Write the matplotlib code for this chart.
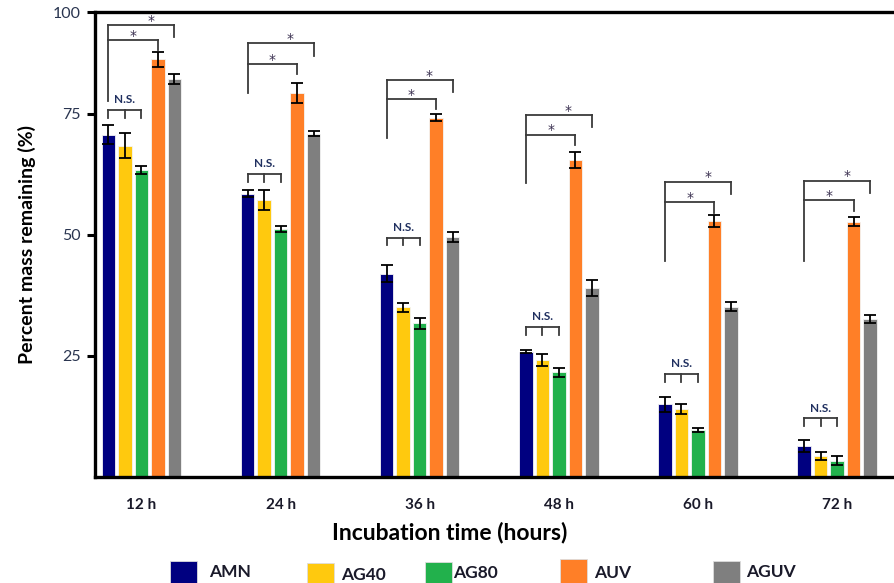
import numpy as np
import matplotlib.pyplot as plt
from matplotlib.patches import Rectangle

plt.rcParams['font.family'] = ['Lato', 'DejaVu Sans']

times = ['12 h', '24 h', '36 h', '48 h', '60 h', '72 h']
groups = ['AMN', 'AG40', 'AG80', 'AUV', 'AGUV']
colors = ['#000080', '#FFC90E', '#22B14C', '#FF7F27', '#7F7F7F']

amn = [70.7, 58.5, 42.0, 25.9, 15.0, 6.4]
amn_err = [2.0, 0.7, 1.8, 0.4, 1.5, 1.2]
ag40 = [68.4, 57.2, 35.0, 24.1, 14.0, 4.3]
ag40_err = [2.6, 2.0, 1.0, 1.2, 1.0, 0.8]
ag80 = [63.4, 51.2, 31.7, 21.6, 9.7, 3.4]
ag80_err = [0.8, 0.7, 1.2, 1.0, 0.5, 1.0]
auv = [86.2, 79.3, 74.2, 65.5, 52.9, 52.7]
auv_err = [1.5, 2.0, 0.7, 1.7, 1.2, 0.9]
aguv = [82.2, 70.9, 49.6, 39.0, 35.2, 32.6]
aguv_err = [1.0, 0.5, 1.0, 1.7, 1.0, 0.8]

# heights of the significance brackets
ns_level = [75.8, 62.6, 49.4, 31.0, 21.3, 12.2]
star_base = [77.7, 79.3, 70.0, 60.7, 44.6, 44.6]
star_low = [90.3, 85.3, 78.1, 70.7, 56.8, 57.2]
star_high = [93.4, 89.5, 82.0, 74.8, 61.0, 61.2]

values = [amn, ag40, ag80, auv, aguv]
errors = [amn_err, ag40_err, ag80_err, auv_err, aguv_err]

fig = plt.figure(figsize=(8.94, 5.83), dpi=100)
ax = fig.add_axes([95 / 894, 1 - 477 / 583, 825.5 / 894, 465 / 583])

x = np.arange(len(times))
step = 0.1186
width = 0.097
for i in range(len(groups)):
    pos = x + (i - 2) * step
    ax.bar(pos, values[i], width, color=colors[i], edgecolor='#f4f4f4', linewidth=0.6, zorder=2)
    ax.errorbar(pos, values[i], yerr=errors[i], fmt='none', ecolor='black',
                elinewidth=1.3, capsize=4, capthick=1.3, zorder=3)

lc = '#3a3a3a'
lw = 1.3
for j in range(len(times)):
    xa = x[j] - 2 * step
    xb = x[j] - step
    xc = x[j]
    xd = x[j] + step
    xe = x[j] + 2 * step
    # N.S. bracket
    h = ns_level[j]
    ax.plot([xa, xc], [h, h], color=lc, lw=lw)
    for xx in [xa, xb, xc]:
        ax.plot([xx, xx], [h, h - 1.6], color=lc, lw=lw)
    ax.text(xb, h + 0.9, 'N.S.', ha='center', va='bottom', fontsize=8.5,
            fontweight='bold', color='#1f2f5f')
    # * brackets
    ax.plot([xa, xa], [star_base[j], star_high[j]], color=lc, lw=lw)
    ax.plot([xa, xd], [star_low[j], star_low[j]], color=lc, lw=lw)
    ax.plot([xd, xd], [star_low[j], star_low[j] - 2.2], color=lc, lw=lw)
    ax.plot([xa, xe], [star_high[j], star_high[j]], color=lc, lw=lw)
    ax.plot([xe, xe], [star_high[j], star_high[j] - 2.6], color=lc, lw=lw)
    ax.text((xa + xd) / 2, star_low[j] - 0.6, '*', ha='center', va='bottom',
            fontsize=10, color='#3a3050', family='DejaVu Sans')
    ax.text((xa + xe) / 2 + 0.07, star_high[j] - 0.6, '*', ha='center', va='bottom',
            fontsize=10, color='#3a3050', family='DejaVu Sans')

ax.set_xlim(-0.334, 5.6)
ax.set_ylim(0, 96)
ax.set_yticks([25, 50, 75, 96])
ax.set_yticklabels(['25', '50', '75', '100'], fontsize=11.5, color='#2a3550')
ax.set_xticks(x)
ax.set_xticklabels(times, fontsize=11, fontweight='bold', color='#1a1a2a')
ax.tick_params(axis='x', length=0, pad=15)
ax.tick_params(axis='y', length=6, width=2.2, direction='out', pad=4)
for s in ['left', 'bottom', 'top']:
    ax.spines[s].set_linewidth(2.4)
ax.spines['right'].set_visible(False)

ax.set_xlabel('Incubation time (hours)', fontsize=16.5, fontweight='bold')
ax.xaxis.set_label_coords(0.43, -0.095)
ax.set_ylabel('Percent mass remaining (%)', fontsize=14, fontweight='bold', labelpad=12)

# legend drawn below the axes
leg_sq = [(170, 561), (307, 563), (425, 562), (560, 559), (713, 561)]
leg_tx = [(209, 572), (341, 575), (453, 573), (594, 573), (746, 572)]
for i in range(len(groups)):
    sx, sy = leg_sq[i]
    fig.add_artist(Rectangle((sx / 894, 1 - (sy + 27) / 583), 27 / 894, 27 / 583,
                             transform=fig.transFigure, facecolor=colors[i],
                             edgecolor='#dddddd', linewidth=0.6))
    tx, ty = leg_tx[i]
    fig.text(tx / 894, 1 - ty / 583, groups[i], ha='left', va='center',
             fontsize=12.5, fontweight='bold', color='#1a1a2a')

fig.savefig('out.png', dpi=100)
